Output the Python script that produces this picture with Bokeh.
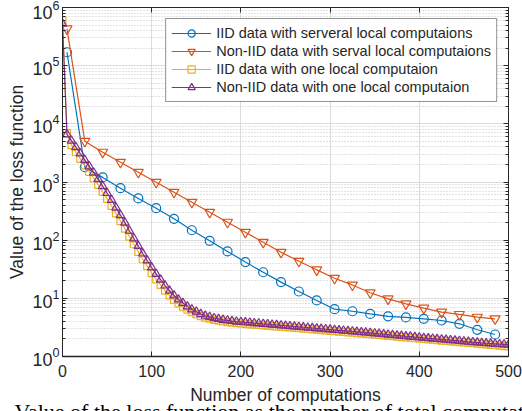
from bokeh.plotting import figure
from bokeh.models import (LogAxis, LinearAxis, FixedTicker, Legend, LegendItem,
                          Title, CustomJSTickFormatter)
from bokeh.embed import file_html
from bokeh.resources import INLINE

# ---- data -------------------------------------------------------------
# several local computations: one point every 20 computations
sev_x = [5, 25, 45, 65, 85, 105, 125, 145, 165, 185, 205, 225, 245,
         265, 285, 305, 325, 345, 365, 385, 405, 425, 445, 465, 485]
iid_sev = [170000, 1800, 1200, 783, 521, 355, 233, 148, 97.6, 64, 42, 28.1, 19,
           13.1, 9.2, 6.5, 6.0, 5.4, 4.9, 4.7, 4.45, 4.16, 3.65, 2.88, 2.39]
noniid_sev = [430000, 5030, 3260, 2190, 1475, 993, 668, 450, 303, 204, 137, 92, 62,
              43.5, 30.9, 22.2, 17.0, 12.5, 9.8, 8.05, 6.8, 5.8, 5.3, 4.75, 4.45]

# one local computation: one point every 5 computations
one_x = list(range(0, 501, 5))
iid_one = [600000, 6900, 4300, 3250, 2500, 1930, 1490, 1160, 890, 675,
           512, 388, 288, 213, 158, 115, 85, 63, 47, 35.7,
           27.2, 21.2, 17.0, 13.6, 11.2, 9.4, 8.2, 7.2, 6.4, 5.8,
           5.35, 4.95, 4.66, 4.46, 4.27, 4.13, 4.00, 3.91, 3.82, 3.74,
           3.70, 3.64, 3.58, 3.53, 3.48, 3.43, 3.38, 3.33, 3.28, 3.24,
           3.20, 3.15, 3.11, 3.06, 3.02, 2.97, 2.93, 2.89, 2.85, 2.80,
           2.76, 2.72, 2.68, 2.64, 2.60, 2.57, 2.53, 2.49, 2.45, 2.42,
           2.38, 2.34, 2.31, 2.27, 2.23, 2.20, 2.16, 2.13, 2.10, 2.06,
           2.03, 2.00, 1.97, 1.94, 1.91, 1.88, 1.85, 1.82, 1.80, 1.77,
           1.74, 1.71, 1.69, 1.66, 1.63, 1.61, 1.58, 1.56, 1.53, 1.51,
           1.49]
noniid_one = [525000, 6600, 5130, 3980, 3090, 2400, 1860, 1450, 1120, 851,
              646, 490, 363, 269, 200, 145, 107, 79.4, 58.9, 44.7,
              33.9, 26.3, 20.9, 16.6, 13.5, 11.2, 9.55, 8.32, 7.24, 6.46,
              5.89, 5.37, 5.01, 4.79, 4.57, 4.42, 4.27, 4.17, 4.07, 3.98,
              3.94, 3.87, 3.81, 3.75, 3.70, 3.64, 3.59, 3.53, 3.48, 3.43,
              3.38, 3.33, 3.28, 3.23, 3.18, 3.13, 3.09, 3.04, 3.00, 2.95,
              2.91, 2.86, 2.82, 2.78, 2.74, 2.70, 2.66, 2.62, 2.58, 2.54,
              2.50, 2.46, 2.42, 2.38, 2.34, 2.31, 2.27, 2.23, 2.20, 2.16,
              2.13, 2.09, 2.06, 2.03, 2.00, 1.97, 1.94, 1.91, 1.88, 1.85,
              1.82, 1.79, 1.76, 1.74, 1.71, 1.69, 1.67, 1.65, 1.63, 1.61,
              1.59]

labels = ["IID data with serveral local computaions",
          "Non-IID data with serval local computaions",
          "IID data with one local computaion",
          "Non-IID data with one local computaion"]
colors = ["#0072BD", "#D95319", "#EDB120", "#7E2F8E"]

x_ticks = [0, 100, 200, 300, 400, 500]
y_ticks = [1, 10, 100, 1000, 10000, 100000, 1000000]
y_minor = [k * 10 ** d for d in range(6) for k in range(2, 10)]

AX = "#262626"
FONT = "Liberation Sans"

# ---- figure -----------------------------------------------------------
p = figure(frame_width=446, frame_height=349, y_axis_type="log",
           x_range=(0, 500), y_range=(1, 1e6),
           output_backend="svg", toolbar_location=None,
           min_border_left=62, min_border_right=14,
           min_border_top=7, min_border_bottom=0)
p.background_fill_color = "white"
p.border_fill_color = "white"
p.outline_line_color = AX
p.outline_line_width = 1

xt = FixedTicker(ticks=x_ticks, minor_ticks=[])
yt = FixedTicker(ticks=y_ticks, minor_ticks=y_minor)

p.xaxis.ticker = xt
p.yaxis.ticker = yt
p.xgrid.ticker = xt
p.ygrid.ticker = yt

for g in (p.xgrid, p.ygrid):
    g.grid_line_color = "#dcdcdc"
    g.grid_line_width = 1
p.ygrid.minor_grid_line_color = "#c4c4c4"
p.ygrid.minor_grid_line_dash = "1 2"
p.ygrid.minor_grid_line_width = 1

for ax in (p.xaxis[0], p.yaxis[0]):
    ax.axis_line_color = AX
    ax.axis_line_width = 1
    ax.major_tick_line_color = AX
    ax.minor_tick_line_color = AX
    ax.major_tick_in = 5
    ax.major_tick_out = 0
    ax.minor_tick_in = 3
    ax.minor_tick_out = 0
    ax.major_label_text_color = AX
    ax.major_label_text_font = FONT
    ax.axis_label_text_font = FONT
    ax.axis_label_text_color = AX
    ax.axis_label_text_font_style = "normal"
    ax.axis_label_text_font_size = "17.5px"

p.xaxis.axis_line_width = 1.5
p.xaxis.major_label_text_font_size = "16px"
p.xaxis.major_label_standoff = 8
p.xaxis.axis_label = "Number of computations"
p.xaxis.axis_label_standoff = 5

p.yaxis.major_label_text_font_size = "18px"
p.yaxis.major_label_standoff = 3
p.yaxis.axis_label = "Value of the loss function"
p.yaxis.axis_label_standoff = 2

# mirrored ticks on the top and right edges of the box
blank = CustomJSTickFormatter(code="return ''")
top = LinearAxis(ticker=xt, formatter=blank, major_label_text_font_size="0px",
                 major_label_standoff=0, axis_line_color=AX,
                 major_tick_line_color=AX, major_tick_in=5, major_tick_out=0,
                 minor_tick_in=0, minor_tick_out=0)
right = LogAxis(ticker=yt, formatter=blank, major_label_text_font_size="0px",
                major_label_standoff=0, axis_line_color=AX,
                major_tick_line_color=AX, minor_tick_line_color=AX,
                major_tick_in=5, major_tick_out=0,
                minor_tick_in=3, minor_tick_out=0)
p.add_layout(top, "above")
p.add_layout(right, "right")

# ---- series -----------------------------------------------------------
items = []
series = [
    (sev_x, iid_sev, "circle", 9),
    (sev_x, noniid_sev, "inverted_triangle", 10),
    (one_x, iid_one, "square", 7),
    (one_x, noniid_one, "triangle", 8.5),
]
for (xs, ys, marker, size), lab, col in zip(series, labels, colors):
    ln = p.line(xs, ys, line_color=col, line_width=1.2)
    sc = p.scatter(xs, ys, marker=marker, size=size, line_color=col,
                   line_width=1.2, fill_color=None)
    items.append(LegendItem(label=lab, renderers=[ln, sc]))

legend = Legend(items=items, location="top_right", margin=11)
legend.label_text_font = FONT
legend.label_text_font_size = "14.5px"
legend.label_text_color = AX
legend.label_height = 18
legend.glyph_height = 18
legend.glyph_width = 40
legend.label_standoff = 5
legend.spacing = 0
legend.padding = 5
legend.border_line_color = AX
legend.border_line_width = 1
legend.background_fill_color = "white"
legend.background_fill_alpha = 1
p.add_layout(legend)

# figure caption under the axis label, running past the bottom edge
caption = Title(text="Value of the loss function as the number of total computations",
                align="left", offset=-48, standoff=-21,
                text_font="Liberation Serif", text_font_size="22px",
                text_font_style="normal", text_color="black")
p.add_layout(caption, "below")

open("out.html", "w").write(file_html(p, INLINE))
